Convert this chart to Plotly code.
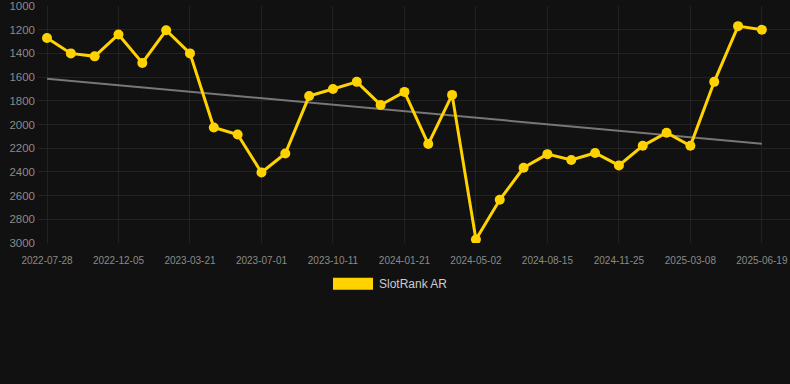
import plotly.graph_objects as go

dates = [
    "2022-07-28", "2022-09-09", "2022-10-22", "2022-12-05", "2023-01-09", "2023-02-13",
    "2023-03-21", "2023-04-24", "2023-05-28", "2023-07-01", "2023-08-04", "2023-09-07",
    "2023-10-11", "2023-11-14", "2023-12-18", "2024-01-21", "2024-02-24", "2024-03-29",
    "2024-05-02", "2024-06-06", "2024-07-11", "2024-08-15", "2024-09-18", "2024-10-22",
    "2024-11-25", "2024-12-29", "2025-02-01", "2025-03-08", "2025-04-11", "2025-05-15",
    "2025-06-19",
]
rank = [
    1270, 1400, 1425, 1240, 1480, 1205, 1400, 2025, 2085, 2405, 2245, 1760,
    1700, 1640, 1835, 1725, 2165, 1750, 2970, 2635, 2365, 2250, 2300, 2240,
    2345, 2180, 2070, 2180, 1640, 1170, 1200,
]
trend_dates = [dates[0], dates[-1]]
trend_values = [1613, 2163]
tick_dates = dates[::3]
y_ticks = [1000, 1200, 1400, 1600, 1800, 2000, 2200, 2400, 2600, 2800, 3000]
series_name = "SlotRank AR"

YELLOW = "#FFD200"
BG = "#111111"

fig = go.Figure()
fig.add_trace(go.Scatter(
    x=trend_dates, y=trend_values, mode="lines",
    line=dict(color="#777777", width=2), hoverinfo="skip", showlegend=False,
))
fig.add_trace(go.Scatter(
    x=dates, y=rank, mode="lines+markers", name=series_name,
    line=dict(color=YELLOW, width=3),
    marker=dict(color=YELLOW, size=10),
    showlegend=False,
))

fig.update_layout(
    width=790, height=384,
    margin=dict(l=38, r=0, t=6, b=141),
    paper_bgcolor=BG, plot_bgcolor=BG,
    font=dict(family="Liberation Sans, Arial, sans-serif", color="#8a8a8a"),
    xaxis=dict(
        type="category", categoryorder="array", categoryarray=dates,
        range=[-0.378, 31.18],
        tickmode="array", tickvals=tick_dates, ticktext=tick_dates,
        showgrid=True, gridcolor="#222222", gridwidth=1,
        zeroline=False, showline=False, ticks="",
        tickfont=dict(size=10, color="#8a8a8a"),
        ticklabelstandoff=10,
    ),
    yaxis=dict(
        range=[3000, 1000], autorange=False,
        tickmode="array", tickvals=y_ticks,
        showgrid=True, gridcolor="#222222", gridwidth=1,
        zeroline=False, showline=False, ticks="",
        tickfont=dict(size=11.5, color="#8a8a8a"),
        ticklabelstandoff=2,
    ),
    showlegend=False,
    shapes=[dict(
        type="rect", xref="paper", yref="paper",
        x0=(333 - 38) / 752, x1=(373 - 38) / 752,
        y0=(384 - 141 - 289.7) / 237, y1=(384 - 141 - 277.7) / 237,
        fillcolor=YELLOW, line=dict(width=0),
    )],
    annotations=[dict(
        xref="paper", yref="paper",
        x=(377 - 38) / 752, y=(384 - 141 - 284) / 237,
        xanchor="left", yanchor="middle", showarrow=False,
        text=series_name, font=dict(size=12, color="#cccccc"),
    )],
)

fig.write_html(
    "out.html",
    config={"displayModeBar": False},
    post_script="document.body.style.margin='0';document.body.style.background='#111111';"
                "window.dispatchEvent(new Event('resize'));",
)
